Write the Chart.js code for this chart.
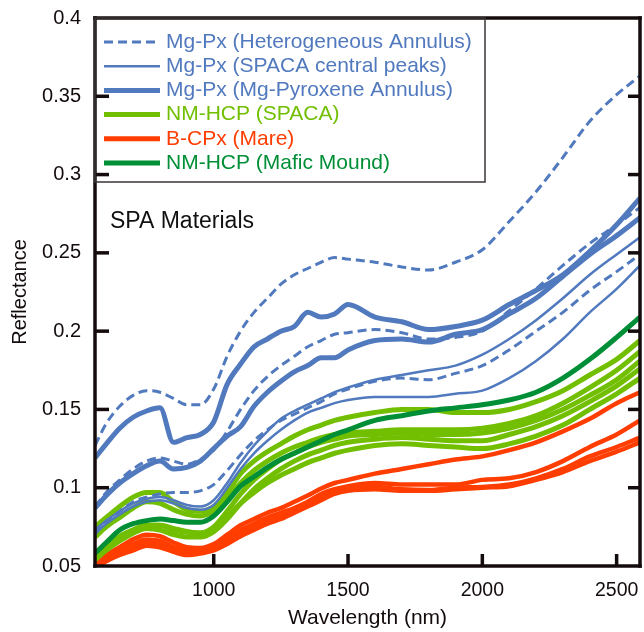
<!DOCTYPE html>
<html>
<head>
<meta charset="utf-8">
<script src="https://cdn.jsdelivr.net/npm/chart.js@4.4.1/dist/chart.umd.min.js"></script>
<style>
  body { margin: 0; background: #fff; }
  canvas { display: block; }
</style>
</head>
<body>
<canvas id="chart" width="644" height="632"></canvas>
<script>
// wavelength grid (nm) shared by every spectrum
const wl = [558, 600, 650, 700, 750, 800, 850, 900, 950, 1000, 1050, 1100, 1150, 1200, 1250, 1300, 1350, 1400, 1450, 1500, 1600, 1700, 1800, 1900, 2000, 2100, 2200, 2300, 2400, 2500, 2587];

// Mg-Px (Heterogeneous Annulus) - dashed
const hetA = [0.127, 0.141, 0.152, 0.159, 0.162, 0.161, 0.157, 0.153, 0.153, 0.163, 0.184, 0.200, 0.212, 0.221, 0.230, 0.236, 0.240, 0.244, 0.247, 0.246, 0.244, 0.241, 0.239, 0.244, 0.252, 0.270, 0.289, 0.311, 0.334, 0.351, 0.363];
const hetB = [0.088, 0.097, 0.105, 0.112, 0.117, 0.119, 0.117, 0.115, 0.118, 0.124, 0.136, 0.150, 0.162, 0.171, 0.178, 0.184, 0.190, 0.194, 0.198, 0.199, 0.201, 0.199, 0.195, 0.196, 0.200, 0.213, 0.227, 0.242, 0.256, 0.268, 0.279];
const hetC = [0.0705, 0.078, 0.085, 0.091, 0.094, 0.096, 0.097, 0.097, 0.098, 0.102, 0.111, 0.121, 0.130, 0.137, 0.143, 0.147, 0.151, 0.155, 0.160, 0.163, 0.168, 0.170, 0.169, 0.173, 0.178, 0.188, 0.200, 0.212, 0.226, 0.238, 0.249];

// Mg-Px (SPACA central peaks) - thin
const peakA = [0.073, 0.079, 0.085, 0.090, 0.093, 0.094, 0.092, 0.089, 0.088, 0.092, 0.103, 0.116, 0.127, 0.136, 0.144, 0.149, 0.153, 0.157, 0.161, 0.164, 0.169, 0.172, 0.175, 0.178, 0.185, 0.195, 0.207, 0.221, 0.236, 0.249, 0.260];
const peakB = [0.071, 0.077, 0.083, 0.088, 0.091, 0.092, 0.090, 0.087, 0.086, 0.089, 0.100, 0.112, 0.122, 0.130, 0.137, 0.143, 0.148, 0.151, 0.154, 0.156, 0.158, 0.158, 0.158, 0.160, 0.162, 0.170, 0.181, 0.195, 0.212, 0.227, 0.242];

// Mg-Px (Mg-Pyroxene Annulus) - thick
const annA = [0.119, 0.128, 0.138, 0.145, 0.149, 0.151, 0.129, 0.132, 0.134, 0.142, 0.166, 0.179, 0.190, 0.195, 0.200, 0.203, 0.212, 0.209, 0.211, 0.217, 0.209, 0.206, 0.201, 0.203, 0.207, 0.217, 0.226, 0.236, 0.251, 0.268, 0.285];
const annB = [0.087, 0.095, 0.103, 0.109, 0.114, 0.117, 0.112, 0.113, 0.117, 0.125, 0.133, 0.139, 0.152, 0.161, 0.168, 0.174, 0.178, 0.183, 0.183, 0.188, 0.194, 0.195, 0.193, 0.198, 0.201, 0.211, 0.221, 0.235, 0.249, 0.261, 0.2725];

// NM-HCP (SPACA)
const spacaA = [0.075, 0.081, 0.088, 0.094, 0.097, 0.097, 0.091, 0.086, 0.085, 0.088, 0.097, 0.109, 0.117, 0.123, 0.128, 0.133, 0.137, 0.140, 0.143, 0.145, 0.148, 0.150, 0.150, 0.148, 0.148, 0.150, 0.155, 0.162, 0.172, 0.182, 0.194];
const spacaB = [0.0685, 0.075, 0.081, 0.087, 0.091, 0.090, 0.086, 0.083, 0.082, 0.085, 0.093, 0.103, 0.111, 0.117, 0.122, 0.126, 0.129, 0.132, 0.134, 0.135, 0.136, 0.137, 0.137, 0.137, 0.138, 0.141, 0.146, 0.154, 0.164, 0.175, 0.187];
const spacaC = [0.0557, 0.062, 0.069, 0.073, 0.076, 0.076, 0.073, 0.0715, 0.071, 0.075, 0.085, 0.096, 0.105, 0.112, 0.118, 0.122, 0.126, 0.129, 0.131, 0.133, 0.134, 0.135, 0.134, 0.134, 0.135, 0.138, 0.143, 0.150, 0.159, 0.169, 0.181];
const spacaD = [0.054, 0.060, 0.066, 0.071, 0.074, 0.073, 0.070, 0.0685, 0.0685, 0.072, 0.080, 0.090, 0.099, 0.106, 0.112, 0.117, 0.121, 0.124, 0.127, 0.129, 0.131, 0.132, 0.131, 0.130, 0.130, 0.134, 0.139, 0.146, 0.155, 0.165, 0.176];
const spacaE = [0.056, 0.062, 0.068, 0.073, 0.076, 0.076, 0.074, 0.072, 0.071, 0.074, 0.081, 0.090, 0.097, 0.103, 0.108, 0.112, 0.116, 0.119, 0.122, 0.124, 0.127, 0.128, 0.127, 0.126, 0.125, 0.128, 0.133, 0.140, 0.150, 0.160, 0.170];

// NM-HCP (Mafic Mound)
const mound = [0.058, 0.065, 0.073, 0.077, 0.079, 0.080, 0.079, 0.078, 0.078, 0.082, 0.091, 0.101, 0.107, 0.113, 0.118, 0.122, 0.126, 0.130, 0.134, 0.137, 0.143, 0.146, 0.149, 0.151, 0.153, 0.156, 0.161, 0.170, 0.182, 0.196, 0.209];

// B-CPx (Mare)
const mareA = [0.052, 0.057, 0.062, 0.067, 0.070, 0.069, 0.065, 0.062, 0.0615, 0.064, 0.070, 0.076, 0.080, 0.084, 0.087, 0.091, 0.095, 0.0995, 0.103, 0.105, 0.109, 0.112, 0.115, 0.118, 0.120, 0.124, 0.129, 0.136, 0.144, 0.154, 0.161];
const mareB = [0.051, 0.055, 0.060, 0.064, 0.067, 0.066, 0.062, 0.060, 0.060, 0.062, 0.067, 0.073, 0.077, 0.081, 0.084, 0.087, 0.091, 0.096, 0.099, 0.101, 0.103, 0.102, 0.102, 0.102, 0.105, 0.106, 0.110, 0.117, 0.126, 0.134, 0.143];
const mareC = [0.050, 0.054, 0.058, 0.062, 0.065, 0.064, 0.060, 0.058, 0.059, 0.061, 0.066, 0.071, 0.075, 0.079, 0.082, 0.085, 0.089, 0.094, 0.097, 0.099, 0.1005, 0.099, 0.0985, 0.100, 0.1005, 0.102, 0.106, 0.112, 0.120, 0.126, 0.132];
const mareD = [0.049, 0.053, 0.057, 0.060, 0.063, 0.062, 0.059, 0.057, 0.058, 0.060, 0.064, 0.069, 0.073, 0.077, 0.080, 0.084, 0.088, 0.092, 0.096, 0.098, 0.099, 0.098, 0.098, 0.099, 0.100, 0.101, 0.105, 0.110, 0.117, 0.123, 0.129];

const xTicks = [1000, 1500, 2000, 2500];
const yTicks = [0.05, 0.1, 0.15, 0.2, 0.25, 0.3, 0.35, 0.4];
const yTickLabels = ['0.05', '0.1', '0.15', '0.2', '0.25', '0.3', '0.35', '0.4'];

const blue = '#5079be';
const lime = '#71bf00';
const red = '#ff3d00';
const green = '#008f36';
const ink = '#140c0c';
const font = '"Liberation Sans", Arial, Helvetica, sans-serif';

function pts(vals) {
  return vals.map((v, i) => ({ x: wl[i], y: v }));
}
function line(vals, color, width, dash) {
  return { data: pts(vals), borderColor: color, borderWidth: width, borderDash: dash || [] };
}

// first entry is drawn on top
const datasets = [
  line(hetA, blue, 3, [9, 5]),
  line(annA, blue, 5),
  line(annB, blue, 5),
  line(hetB, blue, 3, [9, 5]),
  line(peakA, blue, 2.5),
  line(peakB, blue, 2.5),
  line(hetC, blue, 3, [9, 5]),
  line(mound, green, 5),
  line(spacaA, lime, 5),
  line(spacaB, lime, 5),
  line(spacaC, lime, 5),
  line(spacaD, lime, 5),
  line(spacaE, lime, 5),
  line(mareA, red, 4.5),
  line(mareB, red, 4.5),
  line(mareC, red, 4.5),
  line(mareD, red, 4.5),
];

const legendItems = [
  { text: 'Mg-Px (Heterogeneous Annulus)', color: blue, width: 3, dash: [9, 5] },
  { text: 'Mg-Px (SPACA central peaks)', color: blue, width: 2.5, dash: [] },
  { text: 'Mg-Px (Mg-Pyroxene Annulus)', color: blue, width: 5, dash: [] },
  { text: 'NM-HCP (SPACA)', color: lime, width: 5, dash: [] },
  { text: 'B-CPx (Mare)', color: red, width: 5, dash: [] },
  { text: 'NM-HCP (Mafic Mound)', color: green, width: 5, dash: [] },
];

const frame = {
  id: 'frame',
  afterDraw(chart) {
    const { ctx, chartArea: a, scales: { x, y } } = chart;
    ctx.save();

    // axes frame and inward ticks, as filled bars
    const w = 3.5;
    ctx.fillStyle = ink;
    xTicks.forEach(v => {
      const px = x.getPixelForValue(v);
      ctx.fillRect(px - w / 2, a.bottom - 12, w, 12);
    });
    yTicks.slice(1, -1).forEach(v => {
      const py = y.getPixelForValue(v);
      ctx.fillRect(a.left, py - w / 2, 14, w);
      ctx.fillRect(a.right - 12, py - w / 2, 12, w);
    });
    ctx.fillRect(a.left - w / 2, a.top - w / 2, a.right - a.left + w, w);
    ctx.fillRect(a.left - w / 2, a.bottom - w / 2, a.right - a.left + w, w);
    ctx.fillRect(a.left - w / 2, a.top - w / 2, w, a.bottom - a.top + w);
    ctx.fillRect(a.right - w / 2, a.top - w / 2, w, a.bottom - a.top + w);

    // legend box
    ctx.lineWidth = 1.5;
    ctx.strokeStyle = '#3c3636';
    ctx.strokeRect(a.left, a.top, 485 - a.left, 182 - a.top);
    ctx.font = '21px ' + font;
    ctx.textBaseline = 'middle';
    legendItems.forEach((it, i) => {
      const ly = 42 + i * 24.2;
      ctx.strokeStyle = it.color;
      ctx.lineWidth = it.width;
      ctx.setLineDash(it.dash);
      ctx.beginPath();
      ctx.moveTo(104, ly);
      ctx.lineTo(160, ly);
      ctx.stroke();
      ctx.fillStyle = it.color;
      ctx.fillText(it.text, 166, ly);
    });
    ctx.setLineDash([]);

    ctx.fillStyle = '#111';
    ctx.textBaseline = 'alphabetic';
    ctx.font = '23px ' + font;
    ctx.fillText('SPA Materials', 110, 228);
    ctx.restore();
  }
};

new Chart(document.getElementById('chart').getContext('2d'), {
  type: 'line',
  data: { datasets },
  options: {
    responsive: false,
    animation: false,
    devicePixelRatio: 1,
    layout: { padding: { top: 18, right: 4, left: 0, bottom: 0 } },
    plugins: { legend: { display: false }, tooltip: { enabled: false } },
    elements: {
      point: { radius: 0 },
      line: { cubicInterpolationMode: 'monotone', borderJoinStyle: 'round', borderCapStyle: 'butt' },
    },
    scales: {
      x: {
        type: 'linear',
        min: 558,
        max: 2587,
        grid: { display: false, drawTicks: false },
        border: { display: false },
        afterBuildTicks: s => { s.ticks = xTicks.map(v => ({ value: v })); },
        afterFit: s => { s.height = 66; s.paddingLeft = 0; s.paddingRight = 0; },
        ticks: { padding: 13, color: ink, font: { family: font, size: 19.5 }, maxRotation: 0, callback: v => String(v) },
        title: { display: true, text: 'Wavelength (nm)', color: ink, font: { family: font, size: 21 }, padding: { top: 0, bottom: 1 } },
      },
      y: {
        min: 0.05,
        max: 0.4,
        grid: { display: false, drawTicks: false },
        border: { display: false },
        afterBuildTicks: s => { s.ticks = yTicks.map(v => ({ value: v })); },
        afterFit: s => { s.width = 95; s.paddingTop = 0; s.paddingBottom = 0; },
        ticks: {
          padding: 14,
          color: ink,
          font: { family: font, size: 20 },
          callback: (v) => yTickLabels[yTicks.indexOf(v)],
        },
        title: { display: true, text: 'Reflectance', color: ink, font: { family: font, size: 20 }, padding: { top: 8, bottom: 0 } },
      },
    },
  },
  plugins: [frame],
});
</script>
</body>
</html>
